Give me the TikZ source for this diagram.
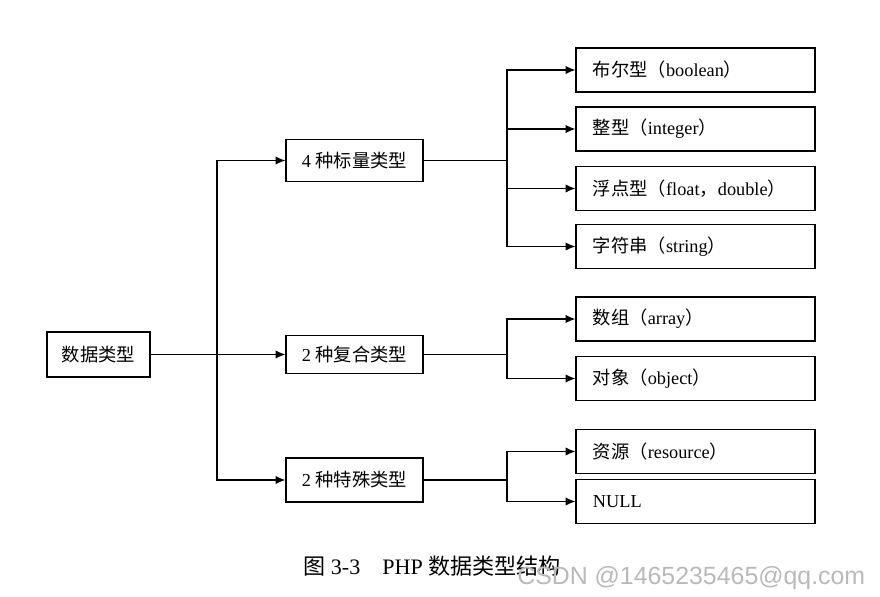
\documentclass[tikz,border=0pt]{standalone}
\usepackage{fontspec}
\setmainfont{Liberation Serif}
\newfontfamily\cjk{Noto Sans CJK SC}
\newfontfamily\wmfont{Liberation Sans}
\usetikzlibrary{arrows.meta,calc,positioning}
\newcommand{\zh}[1]{{\cjk #1}}

\begin{document}
\begin{tikzpicture}[x=0.025cm,y=-0.025cm,
  every node/.style={font=\fontsize{13}{15}\selectfont},
  box/.style={draw,line width=0.9pt,inner sep=0pt,minimum width=3.425cm,minimum height=1.05cm},
  rbox/.style={draw,line width=0.9pt,inner xsep=0.425cm,inner ysep=0pt,text width=5.125cm,align=left,minimum height=1.1cm},
  link/.style={line width=0.9pt,-{Latex[length=7pt,width=6pt]}}]
\useasboundingbox (0,0) rectangle (880,597);

% root and the three groups
\node[box,minimum width=2.575cm,minimum height=1.125cm] (root) at (98.5,354.5) {\zh{数据类型}};
\node[box] (scalar) at (354.5,160.5) {4 \zh{种标量类型}};
\node[box,minimum height=0.95cm] (compound) at (354.5,354.5) {2 \zh{种复合类型}};
\node[box,minimum height=1.1cm] (special) at (354.5,480) {2 \zh{种特殊类型}};

% leaf types
\node[rbox] (bool) at (695.5,70) {\zh{布尔型（}boolean\zh{）}};
\node[rbox] (int) at (695.5,129) {\zh{整型（}integer\zh{）}};
\node[rbox] (float) at (695.5,188.5) {\zh{浮点型（}float\zh{，}double\zh{）}};
\node[rbox] (str) at (695.5,246.5) {\zh{字符串（}string\zh{）}};
\node[rbox] (array) at (695.5,319) {\zh{数组（}array\zh{）}};
\node[rbox] (obj) at (695.5,378.5) {\zh{对象（}object\zh{）}};
\node[rbox] (res) at (695.5,451.5) {\zh{资源（}resource\zh{）}};
\node[rbox] (null) at (695.5,501.5) {NULL};

% branch points
\coordinate (b0) at (217,354.5);
\coordinate (b1) at (507,160.5);
\coordinate (b2) at (507,354.5);
\coordinate (b3) at (507,480);

\draw[line width=0.9pt] (root.east) -- (b0);
\foreach \n in {scalar,compound,special} \draw[link] (b0) |- (\n.west);

\draw[line width=0.9pt] (scalar.east) -- (b1);
\foreach \n in {bool,int,float,str} \draw[link] (b1) |- (\n.west);

\draw[line width=0.9pt] (compound.east) -- (b2);
\foreach \n in {array,obj} \draw[link] (b2) |- (\n.west);

\draw[line width=0.9pt] (special.east) -- (b3);
\foreach \n in {res,null} \draw[link] (b3) |- (\n.west);

% caption and mark
\node[font=\fontsize{15.7}{18}\selectfont,anchor=west,inner sep=0pt] (cap) at (303,566) {\zh{图} 3-3\quad PHP \zh{数据类型结构}};
\node[font=\fontsize{17.7}{20}\wmfont,text=gray!55,anchor=west,inner sep=0pt] (mark) at (517,578) {CSDN @1465235465@qq.com};
\end{tikzpicture}
\end{document}
